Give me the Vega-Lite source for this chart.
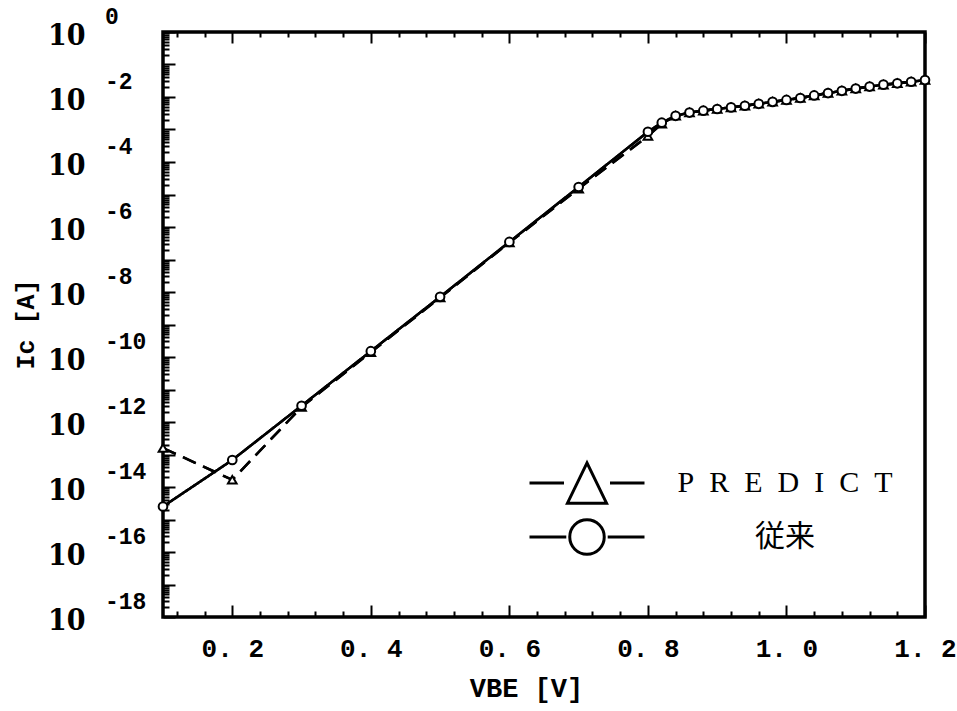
{
  "$schema": "https://vega.github.io/schema/vega-lite/v6.json",
  "width": 762,
  "height": 585,
  "autosize": {"type": "none"},
  "padding": {"left": 163, "top": 32, "right": 32, "bottom": 94},
  "background": "white",
  "config": {
    "view": {"stroke": "black", "strokeWidth": 3.5},
    "axis": {"domain": false, "grid": false, "tickColor": "black", "tickWidth": 2, "tickOpacity": 1, "labelColor": "black", "titleColor": "black", "labelFont": "Liberation Mono", "titleFont": "Liberation Mono", "labelFontWeight": "bold", "titleFontWeight": "bold", "zindex": 1}
  },
  "datasets": {
    "curves": [
      {"vbe": 0.1, "ic": 1.58e-13, "series": "PREDICT"},
      {"vbe": 0.2, "ic": 1.66e-14, "series": "PREDICT"},
      {"vbe": 0.3, "ic": 2.88e-12, "series": "PREDICT"},
      {"vbe": 0.4, "ic": 1.41e-10, "series": "PREDICT"},
      {"vbe": 0.5, "ic": 6.76e-9, "series": "PREDICT"},
      {"vbe": 0.6, "ic": 3.31e-7, "series": "PREDICT"},
      {"vbe": 0.7, "ic": 1.51e-5, "series": "PREDICT"},
      {"vbe": 0.8, "ic": 6.31e-4, "series": "PREDICT"},
      {"vbe": 0.82, "ic": 1.51e-3, "series": "PREDICT"},
      {"vbe": 0.84, "ic": 2.63e-3, "series": "PREDICT"},
      {"vbe": 0.86, "ic": 3.31e-3, "series": "PREDICT"},
      {"vbe": 0.88, "ic": 3.8e-3, "series": "PREDICT"},
      {"vbe": 0.9, "ic": 4.27e-3, "series": "PREDICT"},
      {"vbe": 0.92, "ic": 4.79e-3, "series": "PREDICT"},
      {"vbe": 0.94, "ic": 5.37e-3, "series": "PREDICT"},
      {"vbe": 0.96, "ic": 6.17e-3, "series": "PREDICT"},
      {"vbe": 0.98, "ic": 7.08e-3, "series": "PREDICT"},
      {"vbe": 1.0, "ic": 8.13e-3, "series": "PREDICT"},
      {"vbe": 1.02, "ic": 9.33e-3, "series": "PREDICT"},
      {"vbe": 1.04, "ic": 1.12e-2, "series": "PREDICT"},
      {"vbe": 1.06, "ic": 1.32e-2, "series": "PREDICT"},
      {"vbe": 1.08, "ic": 1.55e-2, "series": "PREDICT"},
      {"vbe": 1.1, "ic": 1.82e-2, "series": "PREDICT"},
      {"vbe": 1.12, "ic": 2.09e-2, "series": "PREDICT"},
      {"vbe": 1.14, "ic": 2.4e-2, "series": "PREDICT"},
      {"vbe": 1.16, "ic": 2.63e-2, "series": "PREDICT"},
      {"vbe": 1.18, "ic": 2.95e-2, "series": "PREDICT"},
      {"vbe": 1.2, "ic": 3.31e-2, "series": "PREDICT"},
      {"vbe": 0.1, "ic": 2.51e-15, "series": "従来"},
      {"vbe": 0.2, "ic": 6.76e-14, "series": "従来"},
      {"vbe": 0.3, "ic": 3.16e-12, "series": "従来"},
      {"vbe": 0.4, "ic": 1.51e-10, "series": "従来"},
      {"vbe": 0.5, "ic": 7.08e-9, "series": "従来"},
      {"vbe": 0.6, "ic": 3.47e-7, "series": "従来"},
      {"vbe": 0.7, "ic": 1.7e-5, "series": "従来"},
      {"vbe": 0.8, "ic": 8.51e-4, "series": "従来"},
      {"vbe": 0.82, "ic": 1.62e-3, "series": "従来"},
      {"vbe": 0.84, "ic": 2.63e-3, "series": "従来"},
      {"vbe": 0.86, "ic": 3.31e-3, "series": "従来"},
      {"vbe": 0.88, "ic": 3.8e-3, "series": "従来"},
      {"vbe": 0.9, "ic": 4.27e-3, "series": "従来"},
      {"vbe": 0.92, "ic": 4.79e-3, "series": "従来"},
      {"vbe": 0.94, "ic": 5.37e-3, "series": "従来"},
      {"vbe": 0.96, "ic": 6.17e-3, "series": "従来"},
      {"vbe": 0.98, "ic": 7.08e-3, "series": "従来"},
      {"vbe": 1.0, "ic": 8.13e-3, "series": "従来"},
      {"vbe": 1.02, "ic": 9.33e-3, "series": "従来"},
      {"vbe": 1.04, "ic": 1.12e-2, "series": "従来"},
      {"vbe": 1.06, "ic": 1.32e-2, "series": "従来"},
      {"vbe": 1.08, "ic": 1.55e-2, "series": "従来"},
      {"vbe": 1.1, "ic": 1.82e-2, "series": "従来"},
      {"vbe": 1.12, "ic": 2.09e-2, "series": "従来"},
      {"vbe": 1.14, "ic": 2.4e-2, "series": "従来"},
      {"vbe": 1.16, "ic": 2.63e-2, "series": "従来"},
      {"vbe": 1.18, "ic": 2.95e-2, "series": "従来"},
      {"vbe": 1.2, "ic": 3.31e-2, "series": "従来"}
    ],
    "exps": [
      {"e": "0", "val": 1},
      {"e": "-2", "val": 1e-2},
      {"e": "-4", "val": 1e-4},
      {"e": "-6", "val": 1e-6},
      {"e": "-8", "val": 1e-8},
      {"e": "-10", "val": 1e-10},
      {"e": "-12", "val": 1e-12},
      {"e": "-14", "val": 1e-14},
      {"e": "-16", "val": 1e-16},
      {"e": "-18", "val": 1e-18}
    ]
  },
  "layer": [
    {
      "data": {"name": "curves"},
      "mark": {"type": "line", "strokeWidth": 2.5, "color": "black"},
      "encoding": {
        "x": {
          "field": "vbe", "type": "quantitative",
          "scale": {"domain": [0.1, 1.2], "nice": false, "zero": false},
          "axis": {
            "orient": "bottom",
            "values": [0.2, 0.4, 0.6, 0.8, 1.0, 1.2],
            "tickSize": -12,
            "labelExpr": "replace(format(datum.value,'.1f'),'.','. ')",
            "labelFontSize": 26,
            "labelPadding": 30,
            "labelOverlap": false,
            "labelFlush": false,
            "labelBaseline": "top",
            "title": "VBE [V]",
            "titleFontSize": 27,
            "titleX": 363,
            "titleY": 71,
            "titleAlign": "center",
            "titleBaseline": "middle"
          }
        },
        "y": {
          "field": "ic", "type": "quantitative",
          "scale": {"type": "log", "domain": [1e-18, 1], "nice": false},
          "axis": {
            "orient": "left",
            "values": [1e-18,1e-17,1e-16,1e-15,1e-14,1e-13,1e-12,1e-11,1e-10,1e-9,1e-8,1e-7,1e-6,1e-5,1e-4,1e-3,1e-2,1e-1,1],
            "tickSize": -12,
            "labelExpr": "round(log(datum.value)/LN10)%2==0 ? '10' : ''",
            "labelFont": "DejaVu Serif Condensed, Liberation Mono",
            "labelFontSize": 30,
            "labelPadding": 90,
            "labelOffset": 3,
            "labelBaseline": "middle",
            "labelOverlap": false,
            "labelFlush": false,
            "title": "Ic [A]",
            "titleFontSize": 25,
            "titleAngle": 270,
            "titleX": -138,
            "titleY": 292,
            "titleAlign": "center",
            "titleBaseline": "middle"
          }
        },
        "strokeDash": {"field": "series", "type": "nominal", "scale": {"domain": ["PREDICT", "従来"], "range": [[14, 8], [1, 0]]}, "legend": null}
      }
    },
    {
      "data": {"name": "curves"},
      "mark": {"type": "line", "strokeWidth": 2.5, "color": "black"},
      "encoding": {
        "x": {
          "field": "vbe", "type": "quantitative",
          "axis": {
            "orient": "bottom",
            "values": [0.12,0.16,0.24,0.28,0.32,0.36,0.44,0.48,0.52,0.56,0.64,0.68,0.72,0.76,0.84,0.88,0.92,0.96,1.04,1.08,1.12,1.16],
            "tickSize": -6,
            "labels": false,
            "title": null
          }
        },
        "y": {
          "field": "ic", "type": "quantitative",
          "axis": {
            "orient": "left",
            "values": [2e-18,3e-18,4e-18,5e-18,6e-18,7e-18,8e-18,9e-18,2e-17,3e-17,4e-17,5e-17,6e-17,7e-17,8e-17,9e-17,2e-16,3e-16,4e-16,5e-16,6e-16,7e-16,8e-16,9e-16,2e-15,3e-15,4e-15,5e-15,6e-15,7e-15,8e-15,9e-15,2e-14,3e-14,4e-14,5e-14,6e-14,7e-14,8e-14,9e-14,2e-13,3e-13,4e-13,5e-13,6e-13,7e-13,8e-13,9e-13,2e-12,3e-12,4e-12,5e-12,6e-12,7e-12,8e-12,9e-12,2e-11,3e-11,4e-11,5e-11,6e-11,7e-11,8e-11,9e-11,2e-10,3e-10,4e-10,5e-10,6e-10,7e-10,8e-10,9e-10,2e-9,3e-9,4e-9,5e-9,6e-9,7e-9,8e-9,9e-9,2e-8,3e-8,4e-8,5e-8,6e-8,7e-8,8e-8,9e-8,2e-7,3e-7,4e-7,5e-7,6e-7,7e-7,8e-7,9e-7,2e-6,3e-6,4e-6,5e-6,6e-6,7e-6,8e-6,9e-6,2e-5,3e-5,4e-5,5e-5,6e-5,7e-5,8e-5,9e-5,2e-4,3e-4,4e-4,5e-4,6e-4,7e-4,8e-4,9e-4,2e-3,3e-3,4e-3,5e-3,6e-3,7e-3,8e-3,9e-3,2e-2,3e-2,4e-2,5e-2,6e-2,7e-2,8e-2,9e-2,2e-1,3e-1,4e-1,5e-1,6e-1,7e-1,8e-1,9e-1],
            "tickSize": -6,
            "labels": false,
            "title": null
          }
        },
        "strokeDash": {"field": "series", "type": "nominal", "legend": null}
      }
    },
    {
      "data": {"name": "curves"},
      "mark": {"type": "point", "filled": true, "fill": "white", "stroke": "black", "strokeWidth": 2, "size": 75, "opacity": 1},
      "encoding": {
        "x": {
          "field": "vbe", "type": "quantitative",
          "axis": {
            "orient": "top",
            "values": [0.2, 0.4, 0.6, 0.8, 1.0, 1.2],
            "tickSize": -11,
            "labels": false,
            "title": null
          }
        },
        "y": {"field": "ic", "type": "quantitative", "axis": null},
        "shape": {"field": "series", "type": "nominal", "scale": {"domain": ["PREDICT", "従来"], "range": ["triangle-up", "circle"]}, "legend": null}
      }
    },
    {
      "data": {"name": "exps"},
      "mark": {"type": "text", "align": "left", "baseline": "middle", "dx": -58, "dy": -15, "font": "Liberation Mono", "fontSize": 23, "fontWeight": "bold", "color": "black"},
      "encoding": {
        "x": {"datum": 0.1, "type": "quantitative", "axis": null},
        "y": {"field": "val", "type": "quantitative", "axis": null},
        "text": {"field": "e", "type": "nominal"}
      }
    },
    {
      "data": {"name": "curves"},
      "transform": [{"filter": "false"}],
      "mark": {"type": "point", "filled": false, "color": "black", "strokeWidth": 3, "size": 13225, "opacity": 1},
      "encoding": {
        "x": {
          "field": "vbe", "type": "quantitative",
          "axis": {
            "orient": "top",
            "values": [0.12,0.16,0.24,0.28,0.32,0.36,0.44,0.48,0.52,0.56,0.64,0.68,0.72,0.76,0.84,0.88,0.92,0.96,1.04,1.08,1.12,1.16],
            "tickSize": -5,
            "labels": false,
            "title": null
          }
        },
        "y": {"field": "ic", "type": "quantitative", "axis": null},
        "shape": {
          "field": "series", "type": "nominal",
          "scale": {"domain": ["PREDICT", "従来"], "range": ["M-1,0H-0.4M0.4,0H1M0,-0.35L0.34,0.35L-0.34,0.35Z", "M-1,0H-0.36M0.36,0H1M-0.3,0A0.3,0.3,0,1,0,0.3,0A0.3,0.3,0,1,0,-0.3,0"]},
          "legend": {
            "orient": "none",
            "legendX": 365,
            "legendY": 426,
            "title": null,
            "padding": 0,
            "rowPadding": 4,
            "clipHeight": 50,
            "symbolSize": 13225,
            "symbolStrokeWidth": 3,
            "symbolStrokeColor": "black",
            "symbolFillColor": "transparent",
            "symbolOpacity": 1,
            "labelOffset": 139,
            "labelAlign": "center",
            "labelFont": "Liberation Serif, Noto Sans CJK JP",
            "labelFontSize": 30,
            "labelColor": "black",
            "labelLimit": 400,
            "labelExpr": "datum.label == 'PREDICT' ? 'P\u2002R\u2002E\u2002D\u2002I\u2002C\u2002T' : datum.label"
          }
        }
      }
    }
  ],
  "resolve": {"scale": {"shape": "independent"}, "axis": {"x": "independent", "y": "independent"}}
}
